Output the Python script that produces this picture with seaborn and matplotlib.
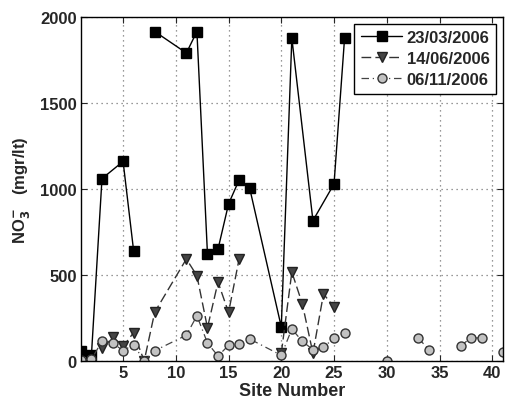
import matplotlib
matplotlib.use("Agg")
import matplotlib.pyplot as plt
from matplotlib.lines import Line2D
import seaborn as sns
import pandas as pd
import numpy as np

# site numbers and NO3- values, nan = break in the line
sites_mar = [1, 2, 3, 5, 6, 7, 8, 11, 12, 13, 14, 15, 16, 17, 20, 21, 23, 25, 26]
no3_mar = [60, 35, 1060, 1160, 640, np.nan, 1915, 1790, 1915, 622, 650, 913, 1052, 1005, 198, 1877, 816, 1029, 1877]

sites_jun = [3, 4, 5, 6, 7, 8, 11, 12, 13, 14, 15, 16, 17, 20, 21, 22, 23, 24, 25]
no3_jun = [75, 140, 85, 165, 0, 284, 593, 496, 193, 459, 282, 593, np.nan, 45, 517, 331, 45, 390, 313]

sites_nov = [1, 2, 3, 4, 5, 6, 7, 8, 11, 12, 13, 14, 15, 16, 17, 20, 21, 22, 23, 24, 25, 26, 27,
             30, 31, 33, 34, 35, 37, 38, 39, 40, 41]
no3_nov = [5, 10, 115, 105, 60, 95, 0, 60, 150, 263, 105, 29, 91, 99, 128, 33, 186, 114, 66, 80, 133, 165, np.nan,
           0, np.nan, 132, 66, np.nan, 89, 134, 134, np.nan, 55]

labels = ["23/03/2006", "14/06/2006", "06/11/2006"]


def make_df(x, y):
    d = pd.DataFrame({"site": x, "no3": y})
    d["seg"] = d["no3"].isna().cumsum()
    return d.dropna()


df_mar = make_df(sites_mar, no3_mar)
df_jun = make_df(sites_jun, no3_jun)
df_nov = make_df(sites_nov, no3_nov)

sns.set_style("ticks")
plt.rcParams["font.family"] = ["Liberation Sans", "DejaVu Sans"]
plt.rcParams["font.weight"] = "bold"

fig = plt.figure(figsize=(5.12, 4.02), dpi=100)
ax = fig.add_axes([0.158, 0.0995, 0.824, 0.856])

styles = [
    dict(color="black", ls="-", lw=1.0, marker="s", ms=6.5, mfc="black", mec="black"),
    dict(color="#333333", ls=(0, (7, 3)), lw=1.0, marker="v", ms=7.5, mfc="#444444", mec="#222222"),
    dict(color="#444444", ls=(0, (6, 3, 1, 3)), lw=0.9, marker="o", ms=6.5, mfc="#c2c2c2", mec="#333333"),
]

for d, st in zip([df_mar, df_jun, df_nov], styles):
    sns.lineplot(data=d, x="site", y="no3", units="seg", estimator=None, sort=False,
                 color=st["color"], linestyle=st["ls"], linewidth=st["lw"],
                 marker=st["marker"], markersize=st["ms"], markerfacecolor=st["mfc"],
                 markeredgecolor=st["mec"], markeredgewidth=1.0, ax=ax, legend=False)

ax.set_xlim(1, 41)
ax.set_ylim(0, 2000)
ax.set_xticks([5, 10, 15, 20, 25, 30, 35, 40])
ax.set_yticks([0, 500, 1000, 1500, 2000])
ax.grid(True, color="#777777", linestyle=(0, (1, 3)), linewidth=0.9)
for s in ax.spines.values():
    s.set_visible(True)
    s.set_color("black")
    s.set_linewidth(1.0)
ax.tick_params(direction="in", top=True, right=True, length=4, labelsize=12, pad=3)
for t in ax.get_xticklabels() + ax.get_yticklabels():
    t.set_fontweight("bold")

ax.set_xlabel("Site Number", fontsize=13, fontweight="bold", labelpad=1)
ax.set_ylabel(r"NO$_\mathbf{3}^{\mathbf{-}}$   (mgr/lt)", fontsize=12, fontweight="bold", labelpad=6)

handles = [Line2D([], [], color=st["color"], linestyle=st["ls"], linewidth=st["lw"], marker=st["marker"],
                  markersize=st["ms"], markerfacecolor=st["mfc"], markeredgecolor=st["mec"])
           for st in styles]
leg = ax.legend(handles, labels, loc="upper right", fontsize=12, handlelength=2.5, fancybox=False,
                framealpha=1, edgecolor="black", borderaxespad=0.4, handletextpad=0.25, labelspacing=0.35,
                borderpad=0.4)
leg.get_frame().set_linewidth(1.0)
for t in leg.get_texts():
    t.set_fontweight("bold")

fig.savefig("out.png", dpi=100)
